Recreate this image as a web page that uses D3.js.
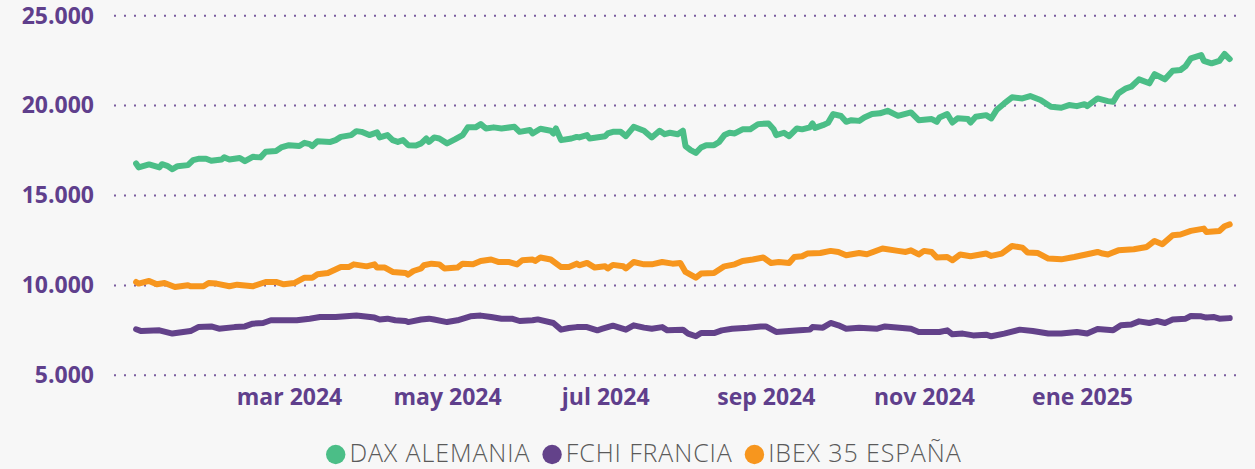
<!DOCTYPE html>
<html>
<head>
<meta charset="utf-8">
<script src="https://cdn.jsdelivr.net/npm/d3@7"></script>
<style>
    html, body { margin: 0; padding: 0; background: #f7f7f7; }
    svg { display: block; font-family: "Open Sans", "Noto Sans", sans-serif; }
</style>
</head>
<body>
<svg id="chart"></svg>
<script>
// series (date, closing value)
const daxData = [
    ["2024-01-02",16780],["2024-01-03",16560],["2024-01-07",16730],["2024-01-11",16560],["2024-01-12",16740],
    ["2024-01-14",16650],["2024-01-16",16460],["2024-01-18",16630],["2024-01-22",16690],["2024-01-24",16970],
    ["2024-01-26",17040],["2024-01-29",17040],["2024-01-31",16930],["2024-02-04",17000],["2024-02-05",17120],
    ["2024-02-07",17000],["2024-02-11",17090],["2024-02-13",16910],["2024-02-16",17150],["2024-02-19",17120],
    ["2024-02-21",17430],["2024-02-25",17480],["2024-02-27",17670],["2024-03-01",17800],["2024-03-05",17750],
    ["2024-03-07",17930],["2024-03-09",17860],["2024-03-10",17750],["2024-03-12",18020],["2024-03-17",17980],
    ["2024-03-19",18080],["2024-03-21",18260],["2024-03-25",18360],["2024-03-27",18580],["2024-03-29",18540],
    ["2024-04-01",18360],["2024-04-04",18510],["2024-04-05",18230],["2024-04-08",18360],["2024-04-10",18080],
    ["2024-04-12",17980],["2024-04-14",18080],["2024-04-16",17800],["2024-04-19",17780],["2024-04-21",17900],
    ["2024-04-23",18170],["2024-04-24",17980],["2024-04-26",18230],["2024-04-28",18170],["2024-05-01",17900],
    ["2024-05-04",18120],["2024-05-07",18360],["2024-05-09",18790],["2024-05-12",18790],["2024-05-14",18970],
    ["2024-05-16",18730],["2024-05-19",18790],["2024-05-22",18730],["2024-05-27",18820],["2024-05-29",18540],
    ["2024-06-02",18640],["2024-06-03",18450],["2024-06-06",18710],["2024-06-10",18600],["2024-06-11",18450],
    ["2024-06-12",18730],["2024-06-14",18080],["2024-06-18",18170],["2024-06-20",18260],["2024-06-21",18230],
    ["2024-06-24",18360],["2024-06-25",18170],["2024-07-01",18300],["2024-07-02",18450],["2024-07-04",18540],
    ["2024-07-07",18540],["2024-07-09",18300],["2024-07-12",18820],["2024-07-16",18600],["2024-07-19",18230],
    ["2024-07-22",18600],["2024-07-24",18410],["2024-07-26",18490],["2024-07-29",18410],["2024-07-31",18600],
    ["2024-08-01",17750],["2024-08-03",17520],["2024-08-05",17370],["2024-08-07",17670],["2024-08-09",17800],
    ["2024-08-12",17800],["2024-08-14",17980],["2024-08-16",18360],["2024-08-18",18490],["2024-08-20",18450],
    ["2024-08-23",18680],["2024-08-26",18680],["2024-08-29",18970],["2024-09-02",19010],["2024-09-04",18680],
    ["2024-09-05",18360],["2024-09-08",18490],["2024-09-10",18300],["2024-09-13",18730],["2024-09-15",18680],
    ["2024-09-18",18790],["2024-09-19",19010],["2024-09-20",18760],["2024-09-23",18910],["2024-09-25",19040],
    ["2024-09-27",19530],["2024-09-30",19420],["2024-10-02",19100],["2024-10-04",19190],["2024-10-07",19150],
    ["2024-10-09",19340],["2024-10-12",19530],["2024-10-15",19570],["2024-10-18",19710],["2024-10-22",19430],
    ["2024-10-27",19620],["2024-10-30",19190],["2024-11-04",19250],["2024-11-06",19100],["2024-11-07",19340],
    ["2024-11-10",19530],["2024-11-12",19060],["2024-11-14",19290],["2024-11-18",19250],["2024-11-19",19060],
    ["2024-11-21",19380],["2024-11-25",19470],["2024-11-27",19290],["2024-11-29",19750],["2024-12-02",20120],
    ["2024-12-05",20460],["2024-12-09",20400],["2024-12-12",20530],["2024-12-16",20310],["2024-12-20",19930],
    ["2024-12-24",19880],["2024-12-27",20030],["2024-12-30",19970],["2025-01-02",20080],["2025-01-03",19970],
    ["2025-01-07",20400],["2025-01-11",20250],["2025-01-13",20210],["2025-01-15",20680],["2025-01-18",20960],
    ["2025-01-20",21050],["2025-01-23",21460],["2025-01-27",21240],["2025-01-29",21750],["2025-02-02",21460],
    ["2025-02-05",21940],["2025-02-08",21980],["2025-02-10",22200],["2025-02-12",22630],["2025-02-16",22810],
    ["2025-02-17",22490],["2025-02-20",22350],["2025-02-23",22490],["2025-02-25",22870],["2025-02-27",22590]
];

const cacData = [
    ["2024-01-02",7560],["2024-01-04",7460],["2024-01-11",7500],["2024-01-16",7320],["2024-01-23",7460],
    ["2024-01-26",7680],["2024-01-31",7720],["2024-02-03",7590],["2024-02-09",7680],["2024-02-13",7720],
    ["2024-02-16",7870],["2024-02-20",7910],["2024-02-23",8060],["2024-03-04",8060],["2024-03-09",8150],
    ["2024-03-13",8240],["2024-03-19",8240],["2024-03-27",8320],["2024-04-03",8210],["2024-04-05",8100],
    ["2024-04-08",8150],["2024-04-11",8060],["2024-04-15",8020],["2024-04-16",7960],["2024-04-21",8100],
    ["2024-04-24",8150],["2024-04-26",8100],["2024-05-01",7960],["2024-05-05",8060],["2024-05-10",8280],
    ["2024-05-14",8320],["2024-05-18",8240],["2024-05-22",8150],["2024-05-26",8150],["2024-05-29",8020],
    ["2024-06-03",8060],["2024-06-05",8110],["2024-06-11",7910],["2024-06-14",7540],["2024-06-17",7630],
    ["2024-06-20",7680],["2024-06-24",7680],["2024-06-28",7500],["2024-06-30",7590],["2024-07-04",7760],
    ["2024-07-09",7540],["2024-07-12",7780],["2024-07-16",7650],["2024-07-19",7590],["2024-07-23",7680],
    ["2024-07-25",7500],["2024-07-31",7540],["2024-08-02",7320],["2024-08-05",7170],["2024-08-07",7350],
    ["2024-08-12",7350],["2024-08-15",7500],["2024-08-19",7590],["2024-08-25",7650],["2024-08-30",7720],
    ["2024-09-01",7720],["2024-09-05",7410],["2024-09-10",7460],["2024-09-14",7500],["2024-09-18",7540],
    ["2024-09-19",7680],["2024-09-23",7650],["2024-09-26",7910],["2024-09-29",7780],["2024-10-02",7590],
    ["2024-10-07",7640],["2024-10-14",7590],["2024-10-17",7720],["2024-10-27",7590],["2024-10-30",7410],
    ["2024-11-07",7410],["2024-11-10",7500],["2024-11-12",7280],["2024-11-16",7320],["2024-11-20",7220],
    ["2024-11-25",7260],["2024-11-27",7170],["2024-12-02",7320],["2024-12-08",7540],["2024-12-13",7460],
    ["2024-12-19",7320],["2024-12-24",7320],["2024-12-30",7410],["2025-01-03",7320],["2025-01-07",7570],
    ["2025-01-13",7500],["2025-01-16",7780],["2025-01-20",7830],["2025-01-23",8000],["2025-01-27",7910],
    ["2025-01-30",8020],["2025-02-02",7910],["2025-02-05",8100],["2025-02-10",8150],["2025-02-12",8300],
    ["2025-02-16",8280],["2025-02-18",8210],["2025-02-21",8240],["2025-02-23",8150],["2025-02-27",8180]
];

const ibexData = [
    ["2024-01-02",10190],["2024-01-03",10100],["2024-01-07",10250],["2024-01-10",10060],["2024-01-13",10130],
    ["2024-01-17",9910],["2024-01-22",10010],["2024-01-23",9950],["2024-01-28",9950],["2024-01-30",10130],
    ["2024-02-02",10100],["2024-02-07",9950],["2024-02-10",10040],["2024-02-16",9950],["2024-02-21",10190],
    ["2024-02-25",10190],["2024-02-28",10060],["2024-03-03",10130],["2024-03-07",10430],["2024-03-10",10430],
    ["2024-03-12",10620],["2024-03-16",10690],["2024-03-21",11020],["2024-03-24",11020],["2024-03-26",11170],
    ["2024-03-31",11060],["2024-04-03",11170],["2024-04-04",10990],["2024-04-07",10990],["2024-04-10",10750],
    ["2024-04-15",10690],["2024-04-16",10600],["2024-04-18",10800],["2024-04-21",10940],["2024-04-22",11120],
    ["2024-04-25",11210],["2024-04-28",11170],["2024-04-30",10940],["2024-05-05",10990],["2024-05-07",11210],
    ["2024-05-11",11170],["2024-05-14",11360],["2024-05-18",11440],["2024-05-21",11300],["2024-05-25",11300],
    ["2024-05-28",11170],["2024-05-30",11400],["2024-06-03",11440],["2024-06-04",11360],["2024-06-06",11550],
    ["2024-06-10",11440],["2024-06-14",11020],["2024-06-17",11020],["2024-06-20",11210],["2024-06-21",11120],
    ["2024-06-24",11250],["2024-06-27",10990],["2024-07-01",11060],["2024-07-02",10940],["2024-07-04",11140],
    ["2024-07-08",11060],["2024-07-09",10940],["2024-07-12",11300],["2024-07-16",11170],["2024-07-19",11170],
    ["2024-07-23",11300],["2024-07-27",11210],["2024-07-30",11250],["2024-08-01",10750],["2024-08-05",10430],
    ["2024-08-07",10660],["2024-08-12",10690],["2024-08-16",11060],["2024-08-20",11170],["2024-08-23",11360],
    ["2024-08-27",11440],["2024-08-31",11550],["2024-09-03",11250],["2024-09-06",11300],["2024-09-10",11250],
    ["2024-09-12",11580],["2024-09-15",11620],["2024-09-17",11770],["2024-09-22",11800],["2024-09-26",11920],
    ["2024-09-29",11860],["2024-10-02",11680],["2024-10-07",11800],["2024-10-10",11730],["2024-10-16",12050],
    ["2024-10-22",11920],["2024-10-25",11860],["2024-10-27",11950],["2024-10-30",11720],["2024-11-01",11920],
    ["2024-11-04",11860],["2024-11-06",11550],["2024-11-10",11580],["2024-11-12",11400],["2024-11-15",11720],
    ["2024-11-19",11620],["2024-11-25",11770],["2024-11-27",11640],["2024-12-01",11770],["2024-12-05",12190],
    ["2024-12-09",12100],["2024-12-11",11830],["2024-12-15",11800],["2024-12-19",11490],["2024-12-24",11450],
    ["2024-12-29",11580],["2025-01-03",11730],["2025-01-07",11860],["2025-01-09",11770],["2025-01-11",11720],
    ["2025-01-15",11950],["2025-01-21",12010],["2025-01-26",12140],["2025-01-29",12470],["2025-02-01",12290],
    ["2025-02-05",12790],["2025-02-08",12830],["2025-02-12",13030],["2025-02-17",13160],["2025-02-18",12970],
    ["2025-02-23",13030],["2025-02-25",13290],["2025-02-27",13390]
];

const seriesNames = ["DAX ALEMANIA", "FCHI FRANCIA", "IBEX 35 ESPAÑA"];
const seriesColors = ["#4bbe87", "#63428a", "#f7961e"];
const yTicks = [5000, 10000, 15000, 20000, 25000];
const xTickDates = ["2024-03-01", "2024-05-01", "2024-07-01", "2024-09-01", "2024-11-01", "2025-01-01"];
const xTickLabels = ["mar 2024", "may 2024", "jul 2024", "sep 2024", "nov 2024", "ene 2025"];

const width = 1255, height = 469;
const parse = d3.timeParse("%Y-%m-%d");
const esFormat = d3.formatLocale({ decimal: ",", thousands: ".", grouping: [3], currency: ["", "€"] }).format(",.0f");

const svg = d3.select('#chart')
    .attr('width', width)
    .attr('height', height);

svg.append('rect')
    .attr('width', width)
    .attr('height', height)
    .attr('fill', '#f7f7f7');

const xScale = d3.scaleTime()
    .domain([parse("2024-01-01"), parse("2025-03-01")])
    .range([133.5, 1234.9]);

const yScale = d3.scaleLinear()
    .domain([5000, 25000])
    .range([375.3, 15.7]);

// dotted gridlines
svg.append('g')
    .selectAll('line')
    .data(yTicks)
    .join('line')
    .attr('x1', 114)
    .attr('x2', 1241)
    .attr('y1', d => yScale(d))
    .attr('y2', d => yScale(d))
    .attr('stroke', '#7a5c9e')
    .attr('stroke-width', 2)
    .attr('stroke-dasharray', '2,8');

const yAxis = svg.append('g')
    .attr('transform', 'translate(94,0)')
    .call(d3.axisLeft(yScale).tickValues(yTicks).tickSize(0).tickPadding(0).tickFormat(esFormat));
yAxis.select('.domain').remove();
yAxis.selectAll('text')
    .attr('font-family', '"Open Sans", sans-serif')
    .attr('font-size', 23)
    .attr('font-weight', 700)
    .attr('fill', '#5f3f8c');

const xAxis = svg.append('g')
    .attr('transform', 'translate(0,380)')
    .call(d3.axisBottom(xScale)
        .tickValues(xTickDates.map(parse))
        .tickSize(0)
        .tickPadding(9)
        .tickFormat((d, i) => xTickLabels[i]));
xAxis.select('.domain').remove();
xAxis.selectAll('text')
    .attr('font-family', '"Open Sans", sans-serif')
    .attr('font-size', 23)
    .attr('font-weight', 700)
    .attr('fill', '#5f3f8c');

const line = d3.line()
    .x(d => xScale(parse(d[0])))
    .y(d => yScale(d[1]));

[daxData, cacData, ibexData].forEach((data, i) => {
    svg.append('path')
        .datum(data)
        .attr('fill', 'none')
        .attr('stroke', seriesColors[i])
        .attr('stroke-width', 6)
        .attr('stroke-linejoin', 'round')
        .attr('stroke-linecap', 'round')
        .attr('d', line);
});

// legend
const legend = svg.append('g');
const r = 9.7;
let cx = 335.7;
seriesNames.forEach((name, i) => {
    legend.append('circle')
        .attr('cx', cx)
        .attr('cy', 454.5)
        .attr('r', r)
        .attr('fill', seriesColors[i]);
    const t = legend.append('text')
        .attr('x', cx + r + 4)
        .attr('y', 462)
        .attr('font-size', 25)
        .attr('font-weight', 300)
        .attr('letter-spacing', 0.9)
        .attr('fill', '#5a5a5a')
        .text(name);
    cx = cx + r + 4 + t.node().getComputedTextLength() + 12 + r;
});
</script>
</body>
</html>
